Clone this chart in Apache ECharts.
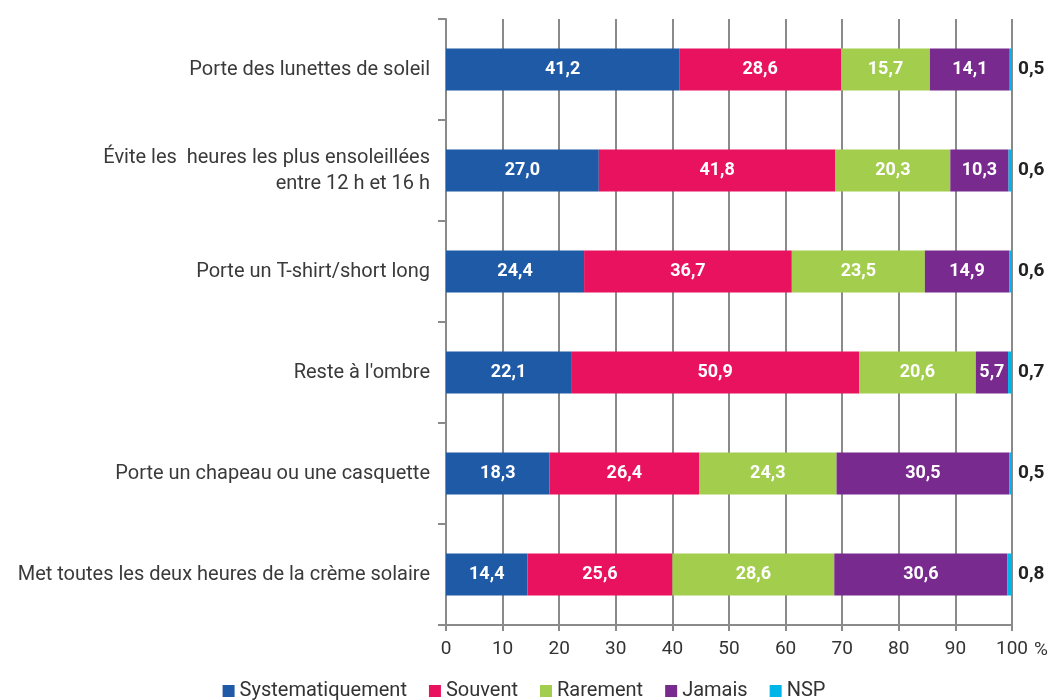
<!DOCTYPE html>
<html>
<head>
<meta charset="utf-8">
<title>Protection solaire</title>
<script src="https://cdn.jsdelivr.net/npm/echarts@6/dist/echarts.min.js"></script>
<style>
  html, body { margin: 0; padding: 0; background: #fff; }
  #chart { width: 1048px; height: 700px; }
</style>
</head>
<body>
<div id="chart"></div>
<script>
// categories, top to bottom
var categories = [
    'Porte des lunettes de soleil',
    'Évite les  heures les plus ensoleillées\nentre 12 h et 16 h',
    'Porte un T-shirt/short long',
    'Reste à l\'ombre',
    'Porte un chapeau ou une casquette',
    'Met toutes les deux heures de la crème solaire'
];
var systematiquement = [41.2, 27.0, 24.4, 22.1, 18.3, 14.4];
var souvent          = [28.6, 41.8, 36.7, 50.9, 26.4, 25.6];
var rarement         = [15.7, 20.3, 23.5, 20.6, 24.3, 28.6];
var jamais           = [14.1, 10.3, 14.9, 5.7, 30.5, 30.6];
var nsp              = [0.5, 0.6, 0.6, 0.7, 0.5, 0.8];
var xTicks = [0, 10, 20, 30, 40, 50, 60, 70, 80, 90, 100];

var font = 'Roboto, "Liberation Sans", sans-serif';

function fr(v) {
    return v.toFixed(1).replace('.', ',');
}

function serie(name, data, color) {
    return {
        name: name,
        type: 'bar',
        stack: 'total',
        barWidth: 42,
        data: data,
        itemStyle: { color: color },
        label: {
            show: true,
            position: 'inside',
            color: '#fff',
            fontFamily: font,
            fontWeight: 'bold',
            fontSize: 18,
            formatter: function (p) { return fr(p.value); }
        }
    };
}

var chart = echarts.init(document.getElementById('chart'));

var series = [
    serie('Systematiquement', systematiquement, '#1f5aa6'),
    serie('Souvent', souvent, '#e8125f'),
    serie('Rarement', rarement, '#a3cd4c'),
    serie('Jamais', jamais, '#782a8e'),
    serie('NSP', nsp, '#00b5e8')
];
// NSP : valeur à droite de la barre
series[4].label.position = 'right';
series[4].label.distance = 6;
series[4].label.color = '#222';
series[4].label.fontSize = 19;

chart.setOption({
    animation: false,
    textStyle: { fontFamily: font },
    grid: { left: 446, right: 36, top: 19, bottom: 75, outerBoundsMode: 'none' },
    legend: {
        bottom: -6,
        left: 'center',
        itemWidth: 12,
        itemHeight: 12,
        itemGap: 22,
        icon: 'rect',
        textStyle: { fontSize: 20, color: '#333', fontFamily: font }
    },
    xAxis: {
        type: 'value',
        min: 0,
        max: 100,
        interval: 10,
        name: '%',
        nameLocation: 'end',
        nameGap: 19,
        nameTextStyle: { fontSize: 19, color: '#333', verticalAlign: 'top', padding: [16, 0, 0, 0] },
        axisLine: { show: true, lineStyle: { color: '#8a8a8a', width: 2 } },
        axisTick: { show: true, length: 6, lineStyle: { color: '#8a8a8a', width: 2 } },
        splitLine: { show: true, lineStyle: { color: '#8a8a8a', width: 2 } },
        axisLabel: {
            fontSize: 19,
            color: '#333',
            margin: 15,
            formatter: function (v) { return xTicks.indexOf(v) >= 0 ? String(v) : ''; }
        }
    },
    yAxis: {
        type: 'category',
        inverse: true,
        data: categories,
        axisLine: { show: true, lineStyle: { color: '#8a8a8a', width: 2 } },
        axisTick: { show: true, length: 8, lineStyle: { color: '#8a8a8a', width: 2 } },
        axisLabel: {
            fontSize: 20,
            color: '#3a3a3a',
            margin: 16,
            align: 'right',
            lineHeight: 26
        }
    },
    series: series
});
</script>
</body>
</html>
